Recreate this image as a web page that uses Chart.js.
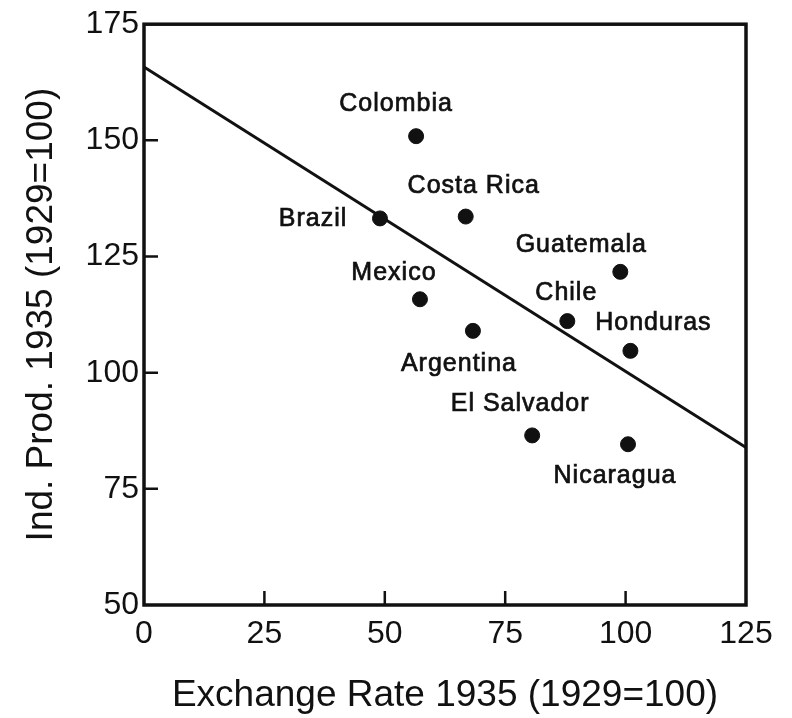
<!DOCTYPE html>
<html>
<head>
<meta charset="utf-8">
<script src="https://cdn.jsdelivr.net/npm/chart.js@4/dist/chart.umd.min.js"></script>
<style>
  html, body { margin: 0; padding: 0; background: #fff; }
  #wrap { width: 792px; height: 718px; }
</style>
</head>
<body>
<div id="wrap"><canvas id="c" width="792" height="718"></canvas></div>
<script>
// Countries, 1935 exchange rate and industrial production (1929 = 100)
const countries = ['Colombia', 'Brazil', 'Costa Rica', 'Guatemala', 'Mexico', 'Chile', 'Argentina', 'Honduras', 'El Salvador', 'Nicaragua'];
const exchangeRate = [56.5, 49.0, 66.8, 98.9, 57.3, 87.9, 68.3, 101.0, 80.6, 100.5];
const indProd = [150.9, 133.2, 133.6, 121.7, 115.8, 111.1, 109.0, 104.7, 86.5, 84.6];

// Fitted regression line endpoints
const fitX = [0, 125];
const fitY = [165.8, 83.9];

// Axis ticks
const xTicks = [0, 25, 50, 75, 100, 125];
const yTicks = [50, 75, 100, 125, 150, 175];

// Where each country name sits relative to its dot (px)
const labelOffsets = {
  'Colombia': [-20, -32], 'Brazil': [-67, 1], 'Costa Rica': [8, -30],
  'Guatemala': [-39, -27], 'Mexico': [-26, -26], 'Chile': [-1, -28],
  'Argentina': [-14, 33], 'Honduras': [23, -28], 'El Salvador': [-12, -31],
  'Nicaragua': [-13, 32]
};

const FONT = '"Liberation Sans", "DejaVu Sans", sans-serif';
const INK = '#111';

const framePlugin = {
  id: 'frame',
  afterDatasetsDraw(chart) {
    const { ctx, chartArea: a, scales } = chart;
    ctx.save();
    ctx.strokeStyle = INK;
    ctx.lineWidth = 3.5;
    ctx.strokeRect(a.left, a.top, a.right - a.left, a.bottom - a.top);
    // inward tick marks
    ctx.lineWidth = 2.5;
    ctx.beginPath();
    xTicks.slice(1, -1).forEach(v => {
      const px = scales.x.getPixelForValue(v);
      ctx.moveTo(px, a.bottom); ctx.lineTo(px, a.bottom - 14);
    });
    yTicks.slice(1, -1).forEach(v => {
      const py = scales.y.getPixelForValue(v);
      ctx.moveTo(a.left, py); ctx.lineTo(a.left + 14, py);
    });
    ctx.stroke();
    // country names
    ctx.fillStyle = INK;
    ctx.strokeStyle = INK;
    ctx.lineWidth = 0.7;
    ctx.font = '25px ' + FONT;
    ctx.letterSpacing = '1px';
    ctx.textAlign = 'center';
    ctx.textBaseline = 'middle';
    const meta = chart.getDatasetMeta(0);
    meta.data.forEach((pt, i) => {
      const name = countries[i];
      const off = labelOffsets[name];
      ctx.fillText(name, pt.x + off[0], pt.y + off[1]);
      ctx.strokeText(name, pt.x + off[0], pt.y + off[1]);
    });
    ctx.restore();
  }
};

new Chart(document.getElementById('c'), {
  type: 'scatter',
  data: {
    datasets: [
      {
        label: 'Countries',
        data: exchangeRate.map((x, i) => ({ x, y: indProd[i] })),
        backgroundColor: INK,
        borderColor: INK,
        pointRadius: 7.5,
        pointHoverRadius: 7.5
      },
      {
        type: 'line',
        label: 'Fit',
        data: fitX.map((x, i) => ({ x, y: fitY[i] })),
        borderColor: INK,
        borderWidth: 3,
        pointRadius: 0,
        fill: false
      }
    ]
  },
  options: {
    responsive: false,
    animation: false,
    events: [],
    layout: { padding: { top: 23, right: 46, left: 0, bottom: 0 } },
    plugins: { legend: { display: false }, tooltip: { enabled: false } },
    scales: {
      x: {
        type: 'linear', min: 0, max: 125,
        afterBuildTicks(s) { s.ticks = xTicks.map(v => ({ value: v })); },
        afterFit(s) { s.height = 113; },
        grid: { display: false, drawTicks: false },
        border: { display: false },
        ticks: { color: INK, padding: 10, font: { family: FONT, size: 32 }, maxRotation: 0 },
        title: { display: true, text: 'Exchange Rate 1935 (1929=100)', color: INK, font: { family: FONT, size: 37 }, padding: { top: 18, bottom: 0 } }
      },
      y: {
        type: 'linear', min: 50, max: 175,
        afterBuildTicks(s) { s.ticks = yTicks.map(v => ({ value: v })); },
        afterFit(s) { s.width = 144; },
        grid: { display: false, drawTicks: false },
        border: { display: false },
        ticks: { color: INK, padding: 5, font: { family: FONT, size: 32 } },
        title: { display: true, text: 'Ind. Prod. 1935 (1929=100)', color: INK, font: { family: FONT, size: 37 }, padding: { top: 20, bottom: 0 } }
      }
    }
  },
  plugins: [framePlugin]
});
</script>
</body>
</html>
